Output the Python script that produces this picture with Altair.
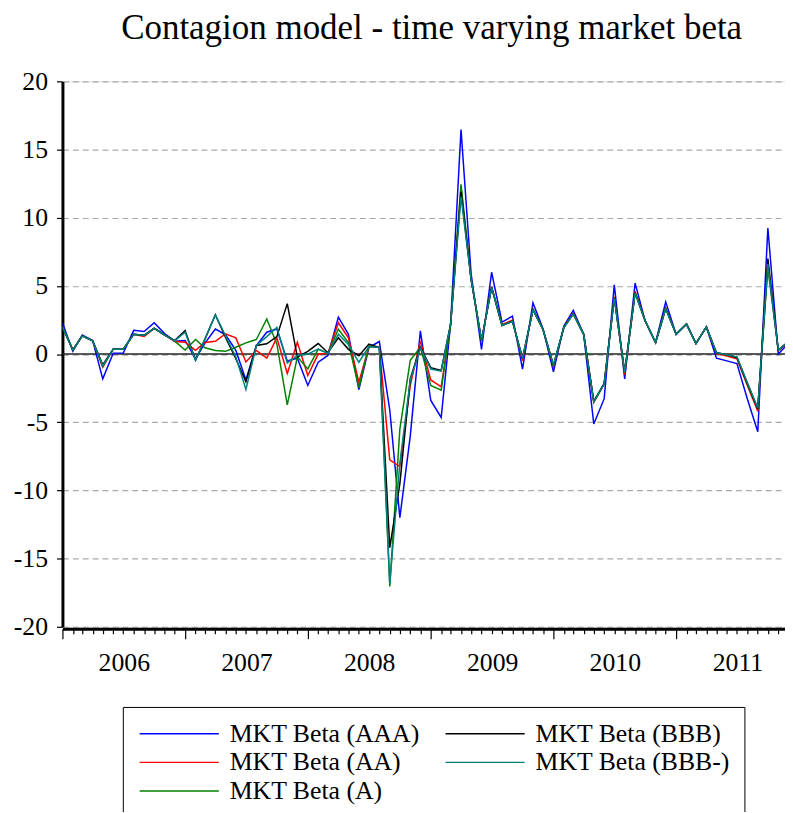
import altair as alt
import pandas as pd

# ---------------- data ----------------
months = [f"{y}-{m:02d}-01" for y in range(2006, 2012) for m in range(1, 13)]

names = ["MKT Beta (AAA)", "MKT Beta (AA)", "MKT Beta (A)", "MKT Beta (BBB)", "MKT Beta (BBB-)"]
colors = ["#0000FF", "#FF0000", "#008000", "#000000", "#008080"]

aaa = [2.3, 0.2, 1.4, 1.0, -1.82, 0.07, 0.07, 1.74, 1.65, 2.3, 1.5, 0.95,
       1.0, -0.34, 0.8, 1.84, 1.43, 0.27, -1.9, 0.63, 1.6, 1.84, -0.5, -0.3,
       -2.3, -0.6, -0.1, 2.71, 1.45, -2.6, 0.48, 0.92, -4.1, -12.0, -6.0, 1.7,
       -3.4, -4.65, 2.2, 16.46, 5.9, 0.34, 6.0, 2.35, 2.78, -1.1, 3.75, 1.86,
       -1.3, 2.06, 3.2, 1.45, -5.13, -3.27, 5.08, -1.82, 5.2, 2.42, 0.85, 3.83,
       1.45, 2.2, 0.77, 1.99, -0.3, -0.5, -0.7, -3.3, -5.7, 9.25, 0.0, 0.8]

aa = [2.0, 0.3, 1.33, 0.97, -0.97, 0.36, 0.36, 1.45, 1.3, 1.89, 1.4, 0.92,
      0.87, 0.27, 0.85, 0.94, 1.48, 1.19, -0.58, 0.27, -0.29, 1.19, -1.43, 0.87,
      -1.57, 0.0, 0.05, 2.3, 1.2, -2.06, 0.55, 0.48, -7.75, -8.25, -2.3, 0.97,
      -1.9, -2.4, 2.2, 12.2, 5.5, 1.0, 4.95, 2.15, 2.5, -0.5, 3.3, 1.8,
      -0.9, 1.98, 3.0, 1.45, -3.55, -2.2, 4.2, -1.5, 4.6, 2.42, 0.85, 3.4,
      1.45, 2.2, 0.77, 1.99, 0.05, -0.15, -0.35, -2.3, -4.2, 6.7, 0.25, 0.85]

a = [2.0, 0.3, 1.33, 0.97, -0.9, 0.36, 0.36, 1.45, 1.38, 1.89, 1.4, 0.95,
     0.3, 1.07, 0.46, 0.27, 0.2, 0.5, 0.82, 1.07, 2.57, 0.75, -3.73, -0.2,
     -1.09, 0.36, 0.05, 1.82, 0.85, -2.47, 0.6, 0.48, -17.05, -5.5, -0.45, 0.5,
     -2.3, -2.65, 2.2, 12.45, 5.5, 1.0, 4.9, 2.1, 2.4, -0.35, 3.25, 1.8,
     -0.85, 1.94, 2.95, 1.45, -3.5, -2.18, 4.1, -1.35, 4.5, 2.42, 0.85, 3.34,
     1.45, 2.2, 0.77, 1.99, 0.1, -0.05, -0.25, -2.2, -4.05, 6.3, 0.3, 0.9]

bbb = [2.0, 0.3, 1.33, 0.97, -0.78, 0.36, 0.36, 1.45, 1.38, 1.9, 1.4, 1.0,
       1.72, -0.46, 1.1, 2.88, 1.23, -0.34, -2.03, 0.63, 0.75, 1.28, 3.7, -0.22,
       0.2, 0.77, 0.1, 1.2, 0.35, -0.12, 0.73, 0.48, -14.2, -9.5, -1.8, 0.5,
       -1.0, -1.2, 2.2, 11.9, 5.5, 1.0, 4.9, 2.1, 2.4, -0.3, 3.25, 1.8,
       -0.8, 1.94, 2.95, 1.45, -3.45, -2.15, 4.15, -1.3, 4.5, 2.42, 0.85, 3.34,
       1.45, 2.2, 0.77, 1.99, 0.1, -0.05, -0.25, -2.15, -4.0, 7.0, 0.3, 0.9]

bbbm = [2.0, 0.3, 1.33, 0.97, -0.85, 0.36, 0.36, 1.45, 1.38, 1.89, 1.4, 0.97,
        1.6, -0.46, 1.1, 2.88, 1.36, -0.22, -2.6, 0.63, 1.28, 1.96, -0.65, -0.1,
        0.0, 0.36, 0.05, 1.45, 0.7, -0.6, 0.55, 0.48, -16.8, -8.0, -1.9, 0.45,
        -1.1, -1.25, 2.2, 11.55, 5.5, 1.0, 4.9, 2.1, 2.4, -0.3, 3.25, 1.8,
        -0.8, 1.94, 2.95, 1.45, -3.5, -2.18, 4.1, -1.33, 4.48, 2.42, 0.85, 3.34,
        1.45, 2.2, 0.77, 1.99, 0.1, -0.05, -0.2, -2.1, -3.95, 6.6, 0.3, 0.9]

y_ticks = [-20, -15, -10, -5, 0, 5, 10, 15, 20]
title_text = "Contagion model - time varying market beta"

# ---------------- build table ----------------
series_values = [aaa, aa, a, bbb, bbbm]
rows = []
for nm, vals in zip(names, series_values):
    for d, v in zip(months, vals):
        rows.append({"date": d, "series": nm, "value": v})
df = pd.DataFrame(rows)

def ms(s):
    return int(pd.Timestamp(s, tz="UTC").value // 10**6)

month_ms = [ms(m) for m in months]
x_domain = [ms("2006-01-01"), ms("2011-11-21")]

FONT = "Liberation Serif"

x_enc = alt.X(
    "date:T",
    scale=alt.Scale(type="utc", domain=x_domain),
    axis=alt.Axis(
        values=month_ms,
        title=None,
        grid=False,
        domainColor="black",
        domainWidth=3,
        tickColor="black",
        tickWidth=1.2,
        tickSize={"condition": {"test": "utcmonth(datum.value) == 0", "value": 10}, "value": 5},
        labelExpr="utcmonth(datum.value) == 0 ? utcFormat(datum.value, '%Y') : ''",
        labelOffset=62,
        labelOverlap=False,
        labelBound=False,
        labelFlush=False,
        labelFont=FONT,
        labelFontSize=26,
        labelColor="black",
        labelPadding=11,
        offset=2,
    ),
)

y_enc = alt.Y(
    "value:Q",
    scale=alt.Scale(domain=[-20, 20], nice=False, zero=False),
    axis=alt.Axis(
        values=y_ticks,
        title=None,
        grid=True,
        gridDash=[6, 4],
        gridColor="#AAAAAA",
        gridWidth=1.2,
        domainColor="black",
        domainWidth=3,
        tickColor="black",
        tickSize=6,
        tickWidth=1.2,
        labelExpr="'' + datum.value",
        labelFont=FONT,
        labelFontSize=26,
        labelColor="black",
        labelPadding=9,
    ),
)

color_enc = alt.Color(
    "series:N",
    scale=alt.Scale(domain=names, range=colors),
    legend=alt.Legend(
        title=None,
        orient="none",
        legendX=61,
        legendY=632,
        direction="vertical",
        columns=2,
        columnPadding=22,
        rowPadding=3,
        symbolType="M-4,0H4",
        symbolSize=400,
        symbolOffset=30,
        symbolStrokeWidth=1.5,
        labelFont=FONT,
        labelFontSize=26,
        labelColor="black",
        labelOffset=38,
        labelLimit=400,
        padding=14,
        strokeColor="black",
        fillColor="white",
    ),
)

base = alt.Chart(df)

zero = alt.Chart(pd.DataFrame({"z": [0]})).mark_rule(color="#222222", strokeWidth=1.6).encode(
    y=alt.Y("z:Q")
)

layers = [zero]
for nm in names:
    layers.append(
        base.transform_filter(alt.datum.series == nm)
        .mark_line(strokeWidth=1.5, clip=True)
        .encode(x=x_enc, y=y_enc, color=color_enc)
    )

chart = (
    alt.layer(*layers)
    .properties(
        width=730,
        height=551,
        padding={"left": 55, "top": 70, "right": 0, "bottom": 183},
        autosize=alt.AutoSizeParams(type="none"),
        title=alt.TitleParams(
            title_text,
            font=FONT,
            fontSize=35.3,
            fontWeight="normal",
            color="black",
            anchor="middle",
            frame="group",
            dx=8,
            offset=23,
        ),
    )
    .configure_view(stroke=None)
    .configure(background="white")
)

chart.save("out.html", embed_options={"renderer": "svg", "actions": False})
